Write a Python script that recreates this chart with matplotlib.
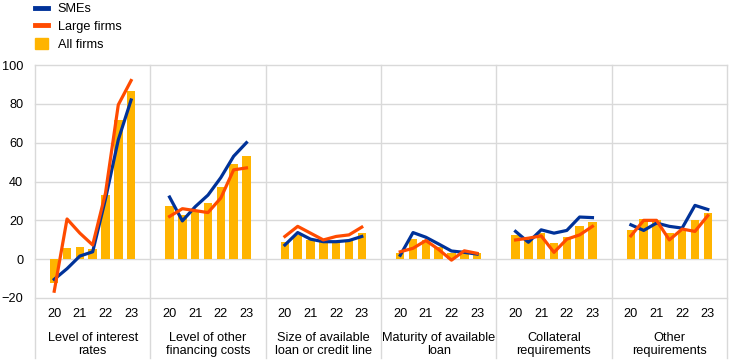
import matplotlib
matplotlib.use("Agg")
import matplotlib.pyplot as plt
import matplotlib.transforms as mtransforms
from matplotlib.lines import Line2D
from matplotlib.patches import Patch
import numpy as np

plt.rcParams['font.family'] = ['Liberation Sans', 'DejaVu Sans']

categories = ["Level of interest\nrates", "Level of other\nfinancing costs",
              "Size of available\nloan or credit line", "Maturity of available\nloan",
              "Collateral\nrequirements", "Other\nrequirements"]
year_labels = ["20", "21", "22", "23"]

all_firms = [
    [-12.5, 6, 6.5, 5, 33, 71.5, 86.5],
    [27.5, 23, 25, 29, 37, 49, 53],
    [9, 12.5, 10, 9, 9, 9.5, 13.5],
    [3, 10.3, 10, 6.4, 3.3, 3, 3],
    [12.5, 11.6, 13.4, 8.5, 11.6, 16.9, 19],
    [15.1, 20.7, 20, 13.7, 14.3, 20.3, 23.8],
]
smes = [
    [-10.4, -4.9, 1.6, 3.8, 31, 61.5, 82],
    [32, 19.7, 27, 33, 42, 53, 60],
    [7.3, 13.7, 10.3, 9, 9, 9.6, 11.7],
    [2, 13.7, 11.3, 7.8, 4.2, 3.5, 2.6],
    [14.3, 8.7, 15.1, 13.4, 14.8, 21.7, 21.4],
    [17.7, 14.8, 18.6, 16.9, 16, 27.7, 25.6],
]
large = [
    [-16.5, 20.7, 13.4, 7.3, 34, 79.5, 92],
    [22, 26, 25, 24, 31.5, 46, 47],
    [11.7, 16.9, 13.4, 9.9, 11.7, 12.5, 16.5],
    [3.8, 5.6, 9.6, 5, -0.5, 4.3, 3],
    [9.9, 10.8, 12, 3.5, 10.3, 12.5, 16.9],
    [12, 20, 20, 9.9, 15.5, 14.3, 22.4],
]

C_BLUE = "#003299"
C_ORANGE = "#FF4B00"
C_BAR = "#FFB400"
C_GRID = "#d9d9d9"

W, H = 744, 362
fig = plt.figure(figsize=(W / 100, H / 100), dpi=100)
ax = fig.add_axes([35 / W, (H - 298) / H, (727 - 35) / W, (298 - 65) / H])

ngroups = len(categories)
slots = 9
ax.set_xlim(0, ngroups * slots)
ax.set_ylim(-20, 100)

for yv in range(-20, 101, 20):
    ax.axhline(yv, color=C_GRID, lw=1.0, zorder=0, clip_on=False)

trans = mtransforms.blended_transform_factory(ax.transData, ax.transAxes)
for g in range(ngroups + 1):
    ax.plot([g * slots, g * slots], [1, -0.258], color=C_GRID, lw=1.0,
            transform=trans, clip_on=False, zorder=0)

tick_pos, tick_lab = [], []
for g in range(ngroups):
    x = g * slots + 1.5 + np.arange(7)
    ax.bar(x, all_firms[g], width=0.66, color=C_BAR, zorder=2)
    ax.plot(x, smes[g], color=C_BLUE, lw=2.3, zorder=3, solid_joinstyle='round')
    ax.plot(x, large[g], color=C_ORANGE, lw=2.3, zorder=4, solid_joinstyle='round')
    for k, lab in enumerate(year_labels):
        tick_pos.append(x[2 * k])
        tick_lab.append(lab)
    ax.text(g * slots + 4.5, -0.145, categories[g], transform=trans,
            ha='center', va='top', fontsize=9.2, linespacing=1.12)

ax.set_xticks(tick_pos)
ax.set_xticklabels(tick_lab)
ax.set_yticks(range(-20, 101, 20))
ax.tick_params(axis='both', length=0, labelsize=9.2, colors='black')
ax.tick_params(axis='x', pad=7)
ax.tick_params(axis='y', pad=8.5)
for s in ax.spines.values():
    s.set_visible(False)

handles = [Line2D([], [], color=C_BLUE, lw=3.5),
           Line2D([], [], color=C_ORANGE, lw=3.5),
           Patch(facecolor=C_BAR, edgecolor=C_BAR)]
fig.legend(handles, ["SMEs", "Large firms", "All firms"],
           loc='upper left', bbox_to_anchor=(34 / W, 1 - 1.5 / H), frameon=False,
           fontsize=9.2, handlelength=1.0, handleheight=0.9, handletextpad=0.75,
           labelspacing=0.38, borderaxespad=0.0, borderpad=0.1)

fig.savefig("out.png", dpi=100)
